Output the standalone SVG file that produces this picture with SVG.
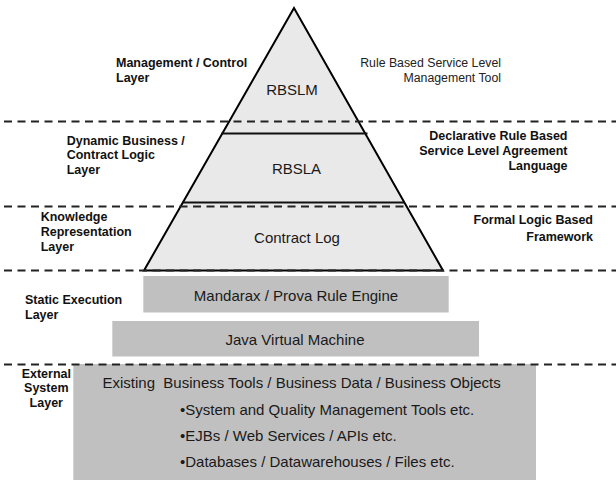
<svg xmlns="http://www.w3.org/2000/svg" width="616" height="480" viewBox="0 0 616 480">
<style>
.bold{font-family:"Liberation Sans",Arial,sans-serif;font-weight:bold;font-size:12.5px;fill:#111}
.reg{font-family:"Liberation Sans",Arial,sans-serif;font-size:12.3px;fill:#222}
.body{font-family:"Liberation Sans",Arial,sans-serif;font-size:15px;fill:#1a1a1a}
.box{fill:#c0c0c0;stroke:none}
.tri{fill:#e9e9e9;stroke:#000;stroke-width:2;stroke-linejoin:miter}
.div{stroke:#111;stroke-width:2}
.sep{stroke:#222;stroke-width:2;stroke-dasharray:8 5.5;fill:none}
</style>
<rect width="616" height="480" fill="#fff"/>
<g id="pyramid">
  <polygon class="tri" points="294,8 144,270.5 443,270.5"/>
  <line class="div" x1="221.5" y1="133.5" x2="367.5" y2="133.5"/>
  <line class="div" x1="182.5" y1="202.5" x2="405" y2="202.5"/>
</g>
<g id="rbslm"><text class="body" x="292" y="95" text-anchor="middle">RBSLM</text></g>
<g id="rbsla"><text class="body" x="296.5" y="174" text-anchor="middle">RBSLA</text></g>
<g id="contractlog"><text class="body" x="297" y="242.5" text-anchor="middle">Contract Log</text></g>
<g id="mandarax">
  <rect class="box" x="143.3" y="276" width="305.4" height="36.5"/>
  <text class="body" x="296" y="300.5" text-anchor="middle">Mandarax / Prova Rule Engine</text>
</g>
<g id="jvm">
  <rect class="box" x="112.3" y="321" width="366.7" height="35.5"/>
  <text class="body" x="295" y="345" text-anchor="middle">Java Virtual Machine</text>
</g>
<g id="external">
  <rect class="box" x="73.3" y="364" width="462.7" height="116"/>
  <text class="body" x="102.5" y="388" xml:space="preserve">Existing  Business Tools / Business Data / Business Objects</text>
  <text class="body" x="180" y="415">•System and Quality Management Tools etc.</text>
  <text class="body" x="180" y="441">•EJBs / Web Services / APIs etc.</text>
  <text class="body" x="180" y="467">•Databases / Datawarehouses / Files etc.</text>
</g>
<g id="label-management">
  <text class="bold" x="116" y="67">Management / Control</text>
  <text class="bold" x="116" y="82">Layer</text>
</g>
<g id="label-rbslm-desc">
  <text class="reg" x="501" y="67" text-anchor="end">Rule Based Service Level</text>
  <text class="reg" x="501" y="82" text-anchor="end">Management Tool</text>
</g>
<g id="label-dynamic">
  <text class="bold" x="66.7" y="144.5">Dynamic Business /</text>
  <text class="bold" x="66.7" y="159">Contract Logic</text>
  <text class="bold" x="66.7" y="174">Layer</text>
</g>
<g id="label-rbsla-desc">
  <text class="bold" x="567.5" y="140" text-anchor="end">Declarative Rule Based</text>
  <text class="bold" x="567.5" y="154.5" text-anchor="end">Service Level Agreement</text>
  <text class="bold" x="567.5" y="169.5" text-anchor="end">Language</text>
</g>
<g id="label-knowledge">
  <text class="bold" x="40.7" y="220.5">Knowledge</text>
  <text class="bold" x="40.7" y="235.5">Representation</text>
  <text class="bold" x="40.7" y="250.5">Layer</text>
</g>
<g id="label-formal">
  <text class="bold" x="593" y="224" text-anchor="end">Formal Logic Based</text>
  <text class="bold" x="593" y="240.5" text-anchor="end">Framework</text>
</g>
<g id="label-static">
  <text class="bold" x="25" y="304">Static Execution</text>
  <text class="bold" x="25" y="319">Layer</text>
</g>
<g id="label-external">
  <text class="bold" x="46.3" y="378" text-anchor="middle">External</text>
  <text class="bold" x="46.3" y="392" text-anchor="middle">System</text>
  <text class="bold" x="46.3" y="407" text-anchor="middle">Layer</text>
</g>
<g id="connectors">
  <line class="sep" x1="4" y1="121.5" x2="616" y2="121.5"/>
  <line class="sep" x1="4" y1="206.5" x2="616" y2="206.5"/>
  <line class="sep" x1="4" y1="270.5" x2="616" y2="270.5"/>
  <line class="sep" x1="4" y1="364.5" x2="616" y2="364.5"/>
</g>
</svg>
